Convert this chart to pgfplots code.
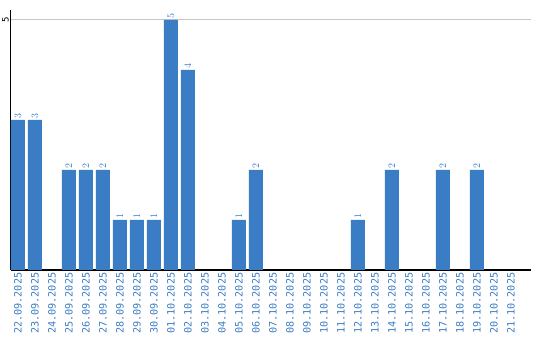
\documentclass[border=0pt]{standalone}
\usepackage{fontspec}
\setmainfont{DejaVu Sans}
\setmonofont{DejaVu Sans Mono}
\usepackage{pgfplots}
\pgfplotsset{compat=1.18}
\definecolor{barblue}{RGB}{59,125,196}
\begin{document}
\begin{tikzpicture}
\begin{axis}[
  scale only axis,
  width=520.5bp, height=260bp,
  xmin=-0.44, xmax=30.18,
  ymin=0, ymax=5.2,
  axis x line=bottom, axis y line=left,
  axis line style={black, line width=1.3bp, -},
  ytick={5},
  yticklabel style={rotate=90, anchor=south, font=\ttfamily\fontsize{9}{10}\selectfont, /pgf/number format/assume math mode=true, inner sep=1.5bp},
  ymajorgrids, grid style={gray!45, line width=1bp},
  major tick length=0pt,
  xtick={0,...,29},
  xticklabels={22.09.2025,23.09.2025,24.09.2025,25.09.2025,26.09.2025,27.09.2025,28.09.2025,29.09.2025,30.09.2025,01.10.2025,02.10.2025,03.10.2025,04.10.2025,05.10.2025,06.10.2025,07.10.2025,08.10.2025,09.10.2025,10.10.2025,11.10.2025,12.10.2025,13.10.2025,14.10.2025,15.10.2025,16.10.2025,17.10.2025,18.10.2025,19.10.2025,20.10.2025,21.10.2025},
  xticklabel style={rotate=90, anchor=east, text=barblue, font=\ttfamily\fontsize{10.2}{11}\selectfont, inner sep=2.5bp},
  ybar, bar width=14bp,
  nodes near coords,
  every node near coord/.append style={rotate=90, anchor=west, text=barblue, font=\ttfamily\fontsize{10}{11}\selectfont, inner sep=1bp},
  clip=false,
]
\addplot[fill=barblue, draw=none] coordinates {
 (0,3) (1,3) (3,2) (4,2) (5,2) (6,1) (7,1) (8,1) (9,5) (10,4)
 (13,1) (14,2) (20,1) (22,2) (25,2) (27,2)
};
\end{axis}
\pgfresetboundingbox
\path[use as bounding box] ([shift={(-10.5bp,-70bp)}]current axis.south west) rectangle ([shift={(9bp,10bp)}]current axis.north east);
\end{tikzpicture}
\end{document}
